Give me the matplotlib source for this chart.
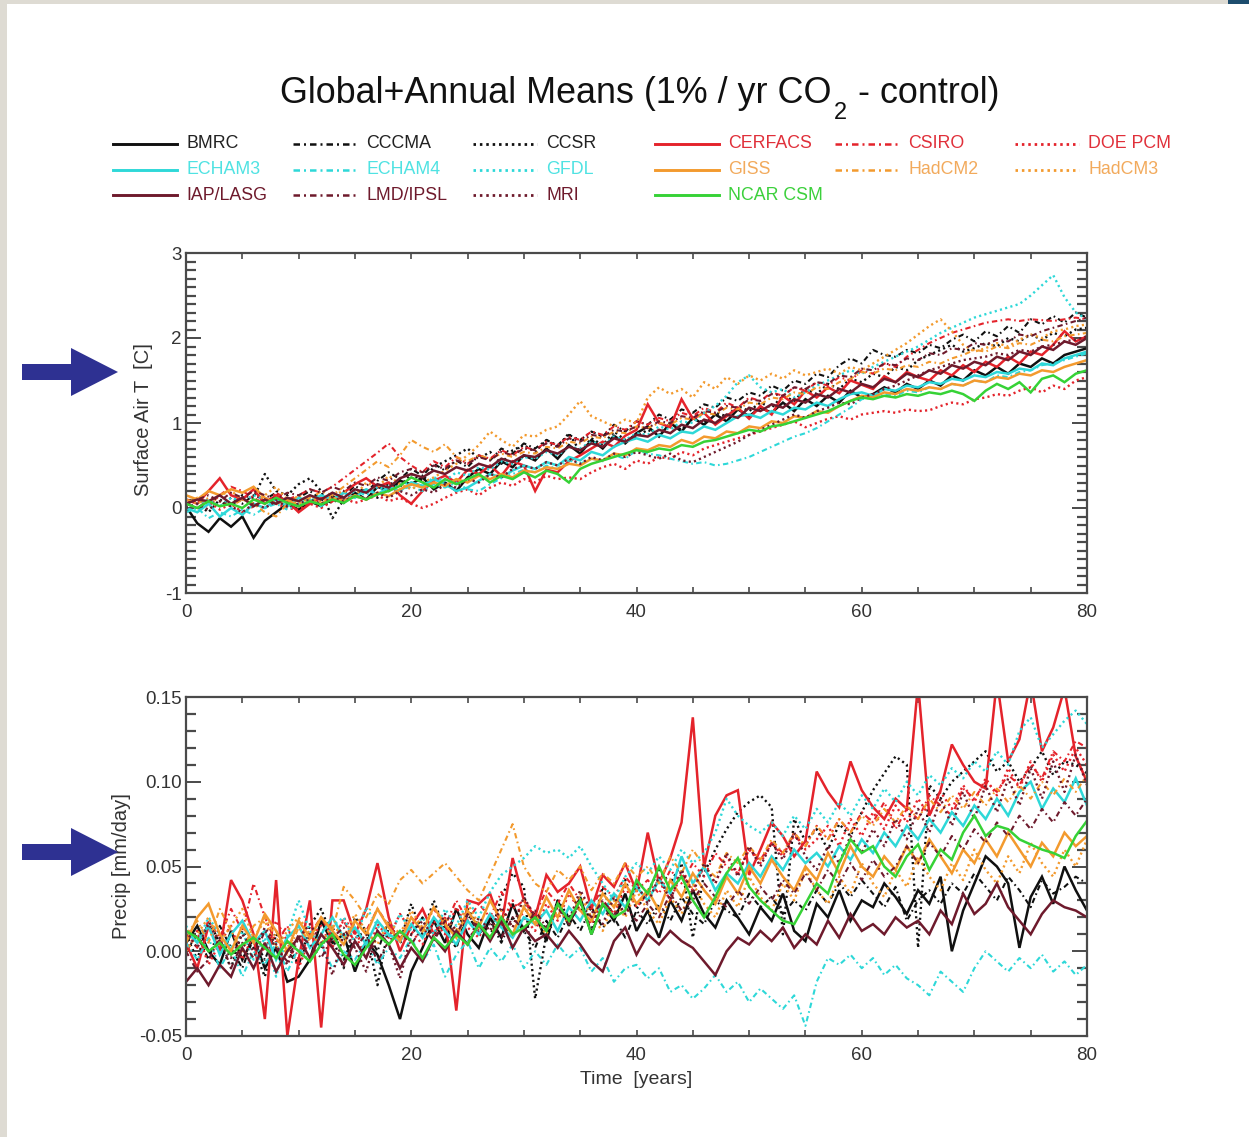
import numpy as np
import matplotlib
matplotlib.use("Agg")
import matplotlib.pyplot as plt
from matplotlib.lines import Line2D
from matplotlib.patches import Rectangle, Polygon
from matplotlib.ticker import MultipleLocator, FormatStrFormatter

plt.rcParams['font.family'] = ['Liberation Sans', 'DejaVu Sans']
plt.rcParams['axes.unicode_minus'] = False

YEARS = list(range(81))
MODELS = ["BMRC", "CCCMA", "CCSR", "CERFACS", "CSIRO", "DOE PCM",
          "ECHAM3", "ECHAM4", "GFDL", "GISS", "HadCM2", "HadCM3",
          "IAP/LASG", "LMD/IPSL", "MRI", "NCAR CSM"]

# ---------------- Surface air temperature change [C] ----------------
T_BMRC = [0.02,-0.18,-0.28,-0.12,-0.22,-0.10,-0.35,-0.15,-0.05,0.05,-0.02,
0.08,0.02,0.14,0.06,0.18,0.10,0.25,0.20,0.32,0.28,
0.36,0.22,0.30,0.20,0.36,0.46,0.40,0.55,0.48,0.62,
0.56,0.70,0.58,0.74,0.64,0.80,0.70,0.85,0.76,0.88,
0.96,0.84,1.00,0.90,1.06,0.98,1.10,1.02,1.16,1.08,
1.18,1.12,1.24,1.14,1.28,1.20,1.32,1.24,1.38,1.30,
1.34,1.42,1.36,1.46,1.40,1.50,1.44,1.56,1.50,1.62,
1.56,1.66,1.58,1.70,1.66,1.76,1.70,1.80,1.84,1.88]
T_CCCMA = [0.05,0.00,0.08,0.02,0.12,0.05,0.15,0.10,0.18,0.05,0.12,
0.20,0.10,0.06,0.14,0.26,0.18,0.32,0.42,0.34,0.46,
0.38,0.52,0.44,0.56,0.48,0.62,0.56,0.70,0.64,0.76,
0.70,0.80,0.74,0.86,0.80,0.90,0.84,0.98,0.90,1.02,
0.98,1.10,1.04,1.16,1.12,1.22,1.18,1.30,1.26,1.36,
1.32,1.44,1.38,1.50,1.46,1.58,1.54,1.68,1.76,1.70,
1.86,1.80,1.78,1.86,1.82,1.92,1.88,1.98,2.04,1.96,
2.08,2.02,2.14,2.06,2.22,2.16,2.26,2.18,2.30,2.24]
T_CCSR = [0.00,0.05,-0.05,0.10,0.02,0.15,0.12,0.40,0.20,0.15,0.28,
0.35,0.20,-0.12,0.10,0.15,0.22,0.12,0.30,0.25,0.40,
0.32,0.48,0.55,0.62,0.70,0.58,0.66,0.52,0.68,0.74,
0.66,0.80,0.72,0.88,0.66,0.82,0.74,0.90,0.80,0.84,
0.92,0.86,1.00,0.92,1.06,1.00,1.12,1.08,1.20,1.14,
1.24,1.18,1.32,1.26,1.40,1.34,1.46,1.40,1.52,1.48,
1.58,1.54,1.66,1.62,1.74,1.80,1.86,1.92,1.84,1.88,
1.94,1.90,2.00,1.96,2.04,1.98,2.06,2.02,2.10,2.12]
T_CERFACS = [0.10,0.05,0.20,0.35,0.15,0.10,0.22,0.05,0.15,0.08,-0.05,
0.05,0.12,0.08,0.18,0.28,0.35,0.25,0.30,0.15,0.05,
0.20,0.32,0.38,0.30,0.45,0.40,0.50,0.38,0.55,0.50,
0.20,0.45,0.42,0.55,0.62,0.70,0.78,0.72,0.85,0.92,
1.22,1.00,0.95,1.28,1.05,1.12,0.98,1.08,1.18,1.05,
1.20,1.10,1.32,1.22,1.38,1.30,1.42,1.35,1.50,1.45,
1.40,1.55,1.48,1.60,1.54,1.50,1.62,1.56,1.68,1.60,
1.72,1.66,1.78,1.70,1.84,1.80,1.92,2.08,1.96,2.02]
T_CSIRO = [0.05,0.10,0.02,0.15,0.25,0.20,0.12,0.05,0.18,0.10,0.15,
0.22,0.18,0.25,0.35,0.45,0.55,0.65,0.76,0.60,0.50,
0.42,0.55,0.48,0.60,0.52,0.62,0.58,0.68,0.62,0.72,
0.68,0.78,0.74,0.84,0.80,0.90,0.86,0.96,0.92,1.02,
0.98,1.06,1.02,1.12,1.08,1.18,1.12,1.24,1.18,1.30,
1.26,1.36,1.32,1.42,1.38,1.48,1.44,1.54,1.50,1.62,
1.58,1.70,1.66,1.78,1.86,1.94,2.00,2.06,2.10,2.14,
2.18,2.20,2.22,2.20,2.22,2.21,2.20,2.22,2.24,2.22]
T_DOE = [0.05,0.00,0.08,-0.02,0.05,-0.05,0.02,0.10,0.05,0.00,-0.02,
0.05,0.00,0.08,0.12,0.06,0.10,0.15,0.08,0.12,0.05,
0.00,0.05,0.12,0.18,0.22,0.15,0.24,0.30,0.26,0.34,
0.30,0.38,0.34,0.36,0.34,0.42,0.48,0.52,0.46,0.56,
0.52,0.60,0.58,0.66,0.62,0.70,0.74,0.78,0.82,0.86,
0.90,0.94,0.98,1.02,0.95,1.00,1.05,1.08,1.04,1.10,
1.12,1.14,1.12,1.16,1.14,1.15,1.20,1.24,1.22,1.28,
1.30,1.34,1.32,1.38,1.42,1.36,1.44,1.40,1.50,1.54]
T_ECHAM3 = [0.00,-0.05,0.05,-0.10,0.00,-0.08,0.05,0.00,0.10,0.02,0.12,
0.08,0.15,0.10,0.18,0.12,0.22,0.16,0.25,0.20,0.30,
0.26,0.34,0.28,0.20,0.24,0.32,0.40,0.36,0.44,0.50,
0.46,0.54,0.50,0.60,0.56,0.66,0.62,0.72,0.78,0.82,
0.78,0.86,0.82,0.90,0.88,0.96,0.92,1.00,1.08,1.10,
1.06,1.14,1.10,1.18,1.16,1.24,1.20,1.28,1.34,1.36,
1.32,1.40,1.38,1.44,1.42,1.48,1.46,1.52,1.50,1.56,
1.54,1.60,1.58,1.64,1.62,1.70,1.68,1.76,1.80,1.84]
T_ECHAM4 = [-0.05,0.00,-0.12,-0.05,-0.10,-0.02,-0.08,0.00,0.05,-0.02,0.05,
0.10,0.02,0.12,0.08,0.15,0.10,0.18,0.14,0.22,0.25,
0.20,0.28,0.24,0.30,0.22,0.20,0.28,0.35,0.40,0.45,
0.42,0.50,0.46,0.56,0.52,0.58,0.55,0.62,0.58,0.68,
0.64,0.62,0.58,0.55,0.52,0.54,0.50,0.52,0.56,0.60,
0.66,0.72,0.78,0.84,0.88,0.94,1.02,1.10,1.18,1.28,
1.30,1.34,1.32,1.38,1.36,1.42,1.40,1.46,1.44,1.50,
1.48,1.56,1.54,1.60,1.62,1.68,1.70,1.74,1.78,1.82]
T_GFDL = [0.00,0.05,0.10,0.02,0.12,0.08,0.15,0.10,0.05,0.12,0.08,
0.15,0.10,0.18,0.12,0.20,0.15,0.25,0.20,0.28,0.30,
0.26,0.36,0.32,0.42,0.38,0.48,0.45,0.55,0.52,0.60,
0.58,0.66,0.62,0.72,0.70,0.78,0.74,0.84,0.80,0.88,
0.86,0.96,0.92,1.02,1.00,1.12,1.20,1.32,1.48,1.56,
1.42,1.36,1.40,1.30,1.36,1.44,1.50,1.56,1.62,1.58,
1.66,1.72,1.78,1.84,1.90,1.98,2.06,2.12,2.18,2.24,
2.28,2.32,2.36,2.40,2.50,2.62,2.74,2.48,2.30,2.22]
T_GISS = [0.15,0.10,0.20,0.15,0.22,0.18,0.25,0.12,0.05,0.10,0.02,
0.08,0.05,0.12,0.08,0.15,0.10,0.18,0.14,0.22,0.28,
0.24,0.30,0.26,0.34,0.30,0.38,0.34,0.40,0.36,0.44,
0.42,0.48,0.46,0.52,0.50,0.58,0.56,0.64,0.62,0.70,
0.68,0.74,0.72,0.80,0.76,0.84,0.82,0.90,0.88,0.96,
0.94,1.02,1.00,1.08,1.06,1.14,1.12,1.20,1.26,1.32,
1.30,1.36,1.34,1.40,1.38,1.42,1.40,1.46,1.44,1.50,
1.48,1.54,1.52,1.58,1.56,1.62,1.60,1.66,1.70,1.74]
T_HADCM2 = [0.10,0.05,0.12,0.08,0.02,0.10,0.05,-0.05,-0.10,0.05,0.15,
0.10,0.20,0.15,0.25,0.35,0.45,0.55,0.48,0.62,0.80,
0.72,0.66,0.75,0.60,0.55,0.62,0.58,0.64,0.60,0.66,
0.64,0.72,0.70,0.78,0.76,0.84,0.82,0.90,0.88,0.96,
0.94,1.00,0.98,1.06,1.04,1.12,1.10,1.18,1.16,1.24,
1.22,1.30,1.28,1.36,1.34,1.42,1.40,1.48,1.52,1.60,
1.58,1.64,1.62,1.68,1.66,1.72,1.70,1.76,1.80,1.86,
1.84,1.90,1.88,1.94,1.92,1.98,1.96,2.02,2.04,2.06]
T_HADCM3 = [0.05,0.12,0.05,0.15,0.20,0.10,0.05,0.15,0.25,0.10,0.05,
0.12,0.08,0.15,0.20,0.14,0.30,0.24,0.38,0.28,0.22,
0.30,0.36,0.44,0.52,0.62,0.74,0.90,0.80,0.72,0.86,
0.84,0.92,0.96,1.10,1.26,1.08,1.02,0.96,1.04,1.00,
1.30,1.42,1.34,1.40,1.30,1.48,1.40,1.54,1.46,1.56,
1.50,1.58,1.52,1.62,1.56,1.60,1.64,1.58,1.66,1.62,
1.70,1.78,1.86,1.94,2.04,2.14,2.22,2.08,1.92,1.84,
1.88,1.94,1.90,1.98,2.04,2.00,2.08,2.10,2.14,2.16]
T_IAP = [0.05,0.10,0.08,0.15,0.05,0.12,0.02,0.10,0.05,0.12,0.08,
0.15,0.10,0.18,0.12,0.22,0.18,0.28,0.24,0.35,0.40,
0.36,0.44,0.40,0.48,0.44,0.52,0.48,0.58,0.54,0.62,
0.60,0.68,0.64,0.72,0.68,0.76,0.72,0.82,0.78,0.86,
0.84,0.92,0.88,0.98,0.94,1.04,1.00,1.10,1.06,1.18,
1.14,1.22,1.18,1.28,1.24,1.34,1.30,1.40,1.36,1.46,
1.42,1.52,1.48,1.58,1.54,1.62,1.58,1.68,1.64,1.72,
1.68,1.78,1.74,1.84,1.80,1.90,1.86,1.96,1.92,2.00]
T_LMD = [0.05,0.10,0.15,0.08,0.18,0.12,0.20,0.15,0.10,0.18,0.15,
0.22,0.18,0.25,0.20,0.30,0.26,0.36,0.32,0.42,0.46,
0.42,0.50,0.46,0.56,0.52,0.60,0.56,0.66,0.62,0.70,
0.68,0.76,0.72,0.82,0.78,0.86,0.84,0.92,0.90,0.96,
0.94,1.02,1.00,1.08,1.06,1.14,1.12,1.20,1.18,1.28,
1.26,1.34,1.32,1.42,1.40,1.48,1.46,1.56,1.54,1.64,
1.62,1.70,1.68,1.76,1.74,1.82,1.80,1.88,1.86,1.94,
1.92,1.98,1.96,2.04,2.02,2.08,2.12,2.16,2.20,2.24]
T_MRI = [0.00,0.05,-0.02,0.08,0.02,-0.05,0.05,0.00,0.08,0.02,0.05,
0.10,0.05,0.12,0.08,0.14,0.10,0.18,0.12,0.20,0.15,
0.22,0.18,0.28,0.24,0.34,0.30,0.40,0.36,0.46,0.50,
0.46,0.54,0.50,0.58,0.52,0.60,0.56,0.64,0.60,0.66,
0.62,0.58,0.64,0.56,0.54,0.60,0.66,0.72,0.78,0.86,
0.92,0.98,1.04,1.10,1.06,1.14,1.18,1.24,1.22,1.30,
1.34,1.40,1.44,1.50,1.56,1.62,1.66,1.70,1.74,1.76,
1.78,1.82,1.80,1.86,1.84,1.90,1.92,1.96,1.98,2.02]
T_NCAR = [0.05,0.00,0.08,0.02,0.05,0.00,0.10,0.05,0.12,0.06,0.02,
0.08,0.04,0.10,0.06,0.14,0.10,0.16,0.20,0.26,0.36,
0.30,0.24,0.34,0.28,0.34,0.40,0.30,0.38,0.34,0.42,
0.36,0.44,0.40,0.30,0.46,0.52,0.56,0.60,0.64,0.68,
0.66,0.70,0.68,0.74,0.72,0.78,0.80,0.84,0.88,0.92,
0.90,0.96,0.98,1.02,1.06,1.10,1.14,1.20,1.26,1.30,
1.28,1.32,1.30,1.34,1.32,1.36,1.34,1.38,1.34,1.26,
1.38,1.46,1.40,1.48,1.36,1.52,1.56,1.48,1.58,1.62]

# ---------------- Precipitation change [mm/day] ----------------
P_BMRC = [0.005,0.015,0.000,-0.008,0.012,-0.005,0.008,-0.010,0.002,-0.018,-0.015,
-0.005,0.018,0.005,0.010,-0.012,0.006,-0.002,-0.020,-0.040,-0.012,
0.002,0.018,0.005,0.025,0.010,0.002,0.020,0.008,0.028,0.012,
0.022,0.006,0.030,0.015,0.032,0.010,0.028,0.018,0.034,0.012,
0.024,0.008,0.030,0.018,0.036,0.022,0.014,0.030,0.020,0.010,
0.026,0.018,0.034,0.012,0.006,0.028,0.020,0.036,0.018,0.030,
0.026,0.040,0.032,0.022,0.036,0.028,0.044,0.000,0.024,0.040,
0.056,0.050,0.040,0.002,0.032,0.044,0.028,0.050,0.036,0.024]
P_CCCMA = [0.000,0.010,-0.005,0.015,0.002,-0.010,0.008,-0.005,0.012,0.000,-0.008,
0.010,0.002,0.015,-0.005,0.008,0.012,0.000,0.018,0.005,0.010,
0.020,0.008,0.015,0.002,0.022,0.010,0.018,0.005,0.020,0.012,
0.002,0.018,0.008,0.022,0.012,0.026,0.014,0.020,0.008,0.024,
0.016,0.028,0.018,0.032,0.022,0.016,0.030,0.024,0.020,0.034,
0.026,0.032,0.022,0.030,0.024,0.036,0.028,0.040,0.032,0.042,
0.034,0.026,0.038,0.018,0.030,0.036,0.028,0.040,0.034,0.046,
0.038,0.030,0.044,0.036,0.026,0.042,0.034,0.038,0.044,0.040]
P_CCSR = [0.010,-0.005,0.018,0.005,-0.010,0.012,0.002,-0.015,0.010,0.005,-0.008,
0.015,0.025,0.008,-0.010,0.020,0.012,-0.020,0.015,0.005,0.028,
0.010,0.030,0.012,0.002,0.025,0.015,0.008,0.032,0.046,0.038,
-0.028,0.010,0.030,0.020,0.026,0.012,0.038,0.018,0.042,0.025,
0.035,0.048,0.040,0.052,0.008,0.046,0.060,0.072,0.082,0.088,
0.092,0.085,0.010,0.078,0.065,0.072,0.060,0.075,0.068,0.082,
0.095,0.105,0.115,0.110,0.002,0.098,0.090,0.100,0.106,0.112,
0.118,0.106,0.112,0.100,0.108,0.118,0.104,0.112,0.110,0.105]
P_CERFACS = [0.005,-0.010,0.015,0.000,0.042,0.030,0.010,-0.040,0.042,-0.050,-0.005,
0.030,-0.045,0.030,0.030,0.010,0.025,0.052,0.020,0.000,0.015,
0.025,0.010,0.020,-0.035,0.030,0.028,0.034,0.015,0.055,0.030,
0.020,0.045,0.035,0.040,0.050,0.025,0.045,0.038,0.052,0.035,
0.070,0.040,0.055,0.076,0.138,0.050,0.080,0.092,0.095,0.045,
0.060,0.076,0.068,0.056,0.065,0.106,0.094,0.085,0.112,0.095,
0.085,0.078,0.090,0.084,0.158,0.080,0.095,0.122,0.110,0.100,
0.096,0.160,0.112,0.125,0.160,0.118,0.132,0.155,0.115,0.100]
P_CSIRO = [0.010,0.002,0.018,0.008,0.025,0.012,0.040,0.020,0.005,0.015,-0.005,
0.010,0.020,0.008,0.018,0.005,0.012,0.025,0.015,0.008,0.020,
0.012,0.025,0.015,0.030,0.018,0.028,0.020,0.035,0.025,0.030,
0.022,0.036,0.028,0.040,0.030,0.025,0.038,0.032,0.044,0.036,
0.042,0.034,0.048,0.040,0.052,0.044,0.058,0.050,0.046,0.060,
0.054,0.064,0.058,0.068,0.062,0.074,0.066,0.078,0.070,0.082,
0.076,0.088,0.072,0.084,0.078,0.092,0.086,0.080,0.096,0.090,
0.100,0.094,0.104,0.098,0.110,0.102,0.118,0.112,0.124,0.120]
P_DOE = [0.000,0.012,-0.008,0.005,0.015,-0.005,0.010,0.000,0.018,0.006,-0.010,
0.008,0.015,0.002,0.020,0.010,-0.004,0.016,0.008,0.022,0.012,
0.004,0.018,0.010,0.026,0.014,0.008,0.022,0.016,0.030,0.020,
0.012,0.028,0.018,0.034,0.024,0.016,0.030,0.022,0.038,0.026,
0.034,0.042,0.030,0.046,0.036,0.050,0.040,0.056,0.046,0.060,
0.052,0.064,0.056,0.070,0.060,0.066,0.074,0.062,0.078,0.068,
0.082,0.072,0.086,0.076,0.090,0.080,0.094,0.084,0.098,0.088,
0.102,0.092,0.108,0.096,0.112,0.100,0.116,0.106,0.120,0.110]
P_ECHAM3 = [0.012,0.005,0.015,-0.002,0.010,0.018,0.005,0.012,-0.005,0.008,0.015,
0.002,0.010,0.020,0.008,0.014,0.004,0.018,0.010,0.006,0.016,
0.008,0.020,0.012,0.004,0.018,0.010,0.022,0.014,0.008,0.020,
0.016,0.024,0.012,0.026,0.018,0.030,0.022,0.034,0.026,0.038,
0.030,0.042,0.034,0.056,0.040,0.050,0.036,0.046,0.040,0.052,
0.044,0.056,0.048,0.060,0.052,0.058,0.050,0.062,0.054,0.066,
0.058,0.070,0.062,0.074,0.066,0.078,0.070,0.082,0.074,0.086,
0.078,0.090,0.080,0.094,0.100,0.084,0.096,0.088,0.102,0.086]
P_ECHAM4 = [0.005,-0.005,0.008,-0.010,0.002,-0.015,0.000,-0.008,0.005,-0.012,0.002,
-0.006,0.004,-0.010,0.000,-0.005,0.006,-0.008,0.002,-0.004,0.008,
-0.006,0.004,-0.015,-0.002,0.006,-0.010,0.002,-0.006,0.004,-0.010,
0.000,-0.008,0.004,-0.004,0.002,-0.012,-0.004,-0.018,-0.010,-0.008,
-0.016,-0.010,-0.024,-0.020,-0.028,-0.022,-0.014,-0.024,-0.018,-0.030,
-0.022,-0.028,-0.034,-0.026,-0.044,-0.018,-0.004,-0.008,-0.002,-0.010,
-0.004,-0.014,-0.008,-0.016,-0.020,-0.026,-0.012,-0.018,-0.024,-0.010,
0.000,-0.006,-0.012,-0.004,-0.010,-0.002,-0.012,-0.006,-0.014,-0.008]
P_GFDL = [0.015,0.005,0.020,0.010,0.002,0.012,-0.005,0.008,-0.015,0.010,0.030,
0.012,0.002,0.015,0.020,0.005,0.026,0.015,0.008,0.022,0.012,
0.020,0.010,0.025,0.015,0.030,0.020,0.035,0.045,0.050,0.055,
0.062,0.058,0.060,0.055,0.062,0.050,0.040,0.030,0.044,0.052,
0.046,0.056,0.048,0.060,0.052,0.058,0.070,0.090,0.080,0.074,
0.070,0.076,0.068,0.080,0.072,0.084,0.076,0.088,0.080,0.092,
0.084,0.096,0.088,0.100,0.092,0.104,0.098,0.108,0.102,0.112,
0.106,0.118,0.110,0.130,0.138,0.120,0.128,0.136,0.142,0.134]
P_GISS = [0.005,0.020,0.028,0.010,0.000,0.015,0.005,0.022,0.012,0.000,0.018,
0.008,0.020,0.012,0.004,0.018,0.010,0.025,0.014,0.006,0.020,
0.012,0.026,0.016,0.008,0.024,0.014,0.030,0.018,0.010,0.026,
0.016,0.032,0.020,0.036,0.024,0.018,0.034,0.026,0.040,0.028,
0.036,0.024,0.042,0.032,0.046,0.036,0.028,0.044,0.034,0.050,
0.040,0.054,0.044,0.036,0.050,0.042,0.058,0.046,0.062,0.050,
0.044,0.056,0.048,0.062,0.052,0.066,0.056,0.046,0.060,0.052,
0.066,0.056,0.070,0.060,0.050,0.064,0.056,0.070,0.062,0.068]
P_HADCM2 = [0.010,0.018,0.005,0.025,0.012,0.000,0.015,0.020,0.008,-0.002,0.014,
0.006,0.020,0.012,0.038,0.030,0.020,0.034,0.028,0.042,0.048,
0.040,0.046,0.052,0.044,0.036,0.030,0.045,0.060,0.075,0.050,
0.040,0.035,0.048,0.042,0.050,0.036,0.046,0.040,0.052,0.044,
0.050,0.040,0.056,0.046,0.060,0.050,0.044,0.058,0.052,0.062,
0.054,0.066,0.058,0.070,0.062,0.074,0.066,0.078,0.070,0.080,
0.074,0.084,0.076,0.086,0.078,0.090,0.082,0.092,0.084,0.094,
0.086,0.096,0.088,0.098,0.090,0.100,0.092,0.102,0.094,0.104]
P_HADCM3 = [0.000,0.010,0.020,0.005,0.015,0.025,0.008,0.018,0.002,0.012,0.020,
0.010,0.004,0.016,0.008,0.022,0.012,0.004,0.018,0.010,0.024,
0.014,0.006,0.020,0.012,0.028,0.016,0.008,0.024,0.014,0.030,
0.018,0.010,0.026,0.016,0.034,0.020,0.012,0.030,0.020,0.036,
0.024,0.016,0.032,0.022,0.040,0.028,0.020,0.036,0.026,0.044,
0.032,0.024,0.040,0.030,0.048,0.036,0.028,0.044,0.034,0.052,
0.040,0.032,0.048,0.038,0.056,0.044,0.036,0.052,0.042,0.060,
0.048,0.040,0.056,0.046,0.064,0.052,0.044,0.060,0.050,0.066]
P_IAP = [-0.018,-0.010,-0.020,-0.008,-0.015,0.002,-0.010,0.005,-0.012,0.000,0.008,
-0.004,0.010,0.002,-0.008,0.006,-0.004,0.012,0.004,-0.010,0.002,
-0.006,0.008,0.000,0.012,0.004,0.016,0.006,0.018,0.002,0.014,
0.006,0.010,0.002,0.012,0.004,-0.006,-0.012,0.006,0.014,-0.002,
0.010,0.004,0.012,0.006,0.002,-0.006,-0.014,0.000,0.008,0.004,
0.012,0.006,0.014,0.002,0.010,0.004,0.018,0.008,0.022,0.012,
0.016,0.010,0.020,0.014,0.018,0.010,0.024,0.016,0.034,0.022,
0.028,0.040,0.026,0.018,0.010,0.022,0.030,0.026,0.024,0.020]
P_LMD = [0.000,-0.012,-0.005,0.008,-0.010,0.005,-0.004,0.012,0.002,-0.006,0.010,
0.004,-0.004,0.008,0.014,0.002,0.010,-0.006,0.006,0.012,0.004,
0.014,0.006,0.018,0.010,0.022,0.012,0.016,0.008,0.020,0.012,
0.024,0.014,0.026,0.016,0.028,0.020,0.030,0.022,0.026,0.018,
0.028,0.020,0.034,0.024,0.030,0.040,0.032,0.026,0.036,0.028,
0.038,0.030,0.042,0.034,0.046,0.036,0.048,0.040,0.052,0.042,
0.054,0.044,0.050,0.062,0.052,0.064,0.056,0.068,0.060,0.072,
0.064,0.076,0.068,0.080,0.072,0.084,0.076,0.088,0.080,0.090]
P_MRI = [0.012,0.002,0.016,0.006,-0.004,0.010,0.000,0.014,0.004,-0.008,0.008,
0.016,0.006,-0.014,0.010,0.002,-0.012,0.012,0.004,-0.016,0.010,
0.018,0.008,0.022,0.012,0.004,0.020,0.012,0.026,0.014,0.032,
0.020,0.012,0.028,0.018,0.036,0.024,0.016,0.032,0.022,0.040,
0.028,0.044,0.030,0.048,0.034,0.052,0.040,0.058,0.044,0.062,
0.050,0.064,0.054,0.070,0.056,0.048,0.062,0.052,0.068,0.058,
0.072,0.062,0.078,0.066,0.084,0.070,0.090,0.074,0.094,0.078,
0.098,0.082,0.102,0.086,0.108,0.090,0.112,0.094,0.116,0.098]
P_NCAR = [0.012,0.008,0.000,0.005,-0.002,0.004,0.008,0.002,-0.004,0.006,0.000,
-0.006,0.004,0.010,-0.002,-0.008,0.002,0.010,0.004,0.012,0.006,
-0.004,0.008,0.002,0.010,0.004,0.016,0.008,0.020,0.010,0.014,
0.020,0.012,0.028,0.018,0.030,0.010,0.028,0.020,0.024,0.042,
0.034,0.050,0.036,0.044,0.030,0.020,0.032,0.046,0.055,0.038,
0.030,0.024,0.018,0.016,0.028,0.040,0.034,0.052,0.066,0.058,
0.062,0.050,0.044,0.056,0.063,0.048,0.060,0.054,0.070,0.080,
0.068,0.074,0.072,0.066,0.063,0.060,0.058,0.055,0.068,0.077]

TEMP = [T_BMRC, T_CCCMA, T_CCSR, T_CERFACS, T_CSIRO, T_DOE,
        T_ECHAM3, T_ECHAM4, T_GFDL, T_GISS, T_HADCM2, T_HADCM3,
        T_IAP, T_LMD, T_MRI, T_NCAR]
PREC = [P_BMRC, P_CCCMA, P_CCSR, P_CERFACS, P_CSIRO, P_DOE,
        P_ECHAM3, P_ECHAM4, P_GFDL, P_GISS, P_HADCM2, P_HADCM3,
        P_IAP, P_LMD, P_MRI, P_NCAR]

# ---------------- styles ----------------
BLACK, CYAN, RED, ORANGE, MAROON, GREEN = ('#101010', '#2ed8d8', '#e4232b',
                                           '#f39a2e', '#6e1a2c', '#36d236')
TXT = {BLACK: '#222222', CYAN: '#4fe2e2', RED: '#e0303a', ORANGE: '#f2aa5c',
       MAROON: '#6e1a2c', GREEN: '#3cd03c'}
SOLID = '-'
DASHDOT = (0, (2.6, 1.6, 0.8, 1.6))
DOTTED = (0, (0.9, 1.4))
COLORS = [BLACK, BLACK, BLACK, RED, RED, RED, CYAN, CYAN, CYAN,
          ORANGE, ORANGE, ORANGE, MAROON, MAROON, MAROON, GREEN]
STYLES = [SOLID, DASHDOT, DOTTED] * 5 + [SOLID]
WIDTHS = {SOLID: 1.8, DASHDOT: 1.5, DOTTED: 1.7}

W, H = 1249, 1137
fig = plt.figure(figsize=(W / 100, H / 100), dpi=100, facecolor='#dedbd3')
fig.patches.append(Rectangle((7 / W, 0), 1 - 7 / W, 1 - 4 / H,
                             transform=fig.transFigure, facecolor='white',
                             edgecolor='none', zorder=-10))
fig.patches.append(Rectangle((1228 / W, 1 - 4 / H), 21 / W, 4 / H,
                             transform=fig.transFigure, facecolor='#1d4d6e',
                             edgecolor='none', zorder=-9))


def fx(px):
    return px / W


def fy(py):
    return 1 - py / H


ax1 = fig.add_axes([fx(186), fy(593), fx(1087) - fx(186), fy(253) - fy(593)])
ax2 = fig.add_axes([fx(186), fy(1036), fx(1087) - fx(186), fy(697) - fy(1036)])

for data, ax in ((TEMP, ax1), (PREC, ax2)):
    for vals, c, ls in zip(data, COLORS, STYLES):
        ax.plot(YEARS, vals, color=c, linestyle=ls, lw=WIDTHS[ls],
                solid_joinstyle='miter')

SPINE = '#4a4a4a'
for ax in (ax1, ax2):
    ax.set_xlim(0, 80)
    ax.xaxis.set_major_locator(MultipleLocator(20))
    ax.xaxis.set_minor_locator(MultipleLocator(5))
    for s in ax.spines.values():
        s.set_color(SPINE)
        s.set_linewidth(1.6)
    ax.tick_params(which='both', direction='in', top=True, right=True,
                   colors=SPINE, labelcolor='#333333', labelsize=13.5)
    ax.tick_params(axis='x', which='both', length=4, width=1.2, pad=8)
    ax.tick_params(axis='y', which='major', length=11, width=1.4, pad=3)
    ax.tick_params(axis='y', which='minor', length=7, width=1.6)

ax1.set_ylim(-1, 3)
ax1.yaxis.set_major_locator(MultipleLocator(1))
ax1.yaxis.set_minor_locator(MultipleLocator(0.1))
ax1.set_ylabel('Surface Air T  [C]', fontsize=14.5, color='#333333')
ax1.yaxis.set_label_coords((153 - 186) / 901, 0.51)

ax2.set_ylim(-0.05, 0.15)
ax2.yaxis.set_major_locator(MultipleLocator(0.05))
ax2.yaxis.set_minor_locator(MultipleLocator(0.01))
ax2.yaxis.set_major_formatter(FormatStrFormatter('%.2f'))
ax2.set_ylabel('Precip [mm/day]', fontsize=14.5, color='#333333')
ax2.yaxis.set_label_coords((131 - 186) / 901, 0.50)
ax2.set_xlabel('Time  [years]', fontsize=14, color='#333333')
ax2.xaxis.set_label_coords(0.5, (1036 - 1071) / 339)

# ---------------- title ----------------
TFAM = ['Liberation Sans', 'DejaVu Sans']
renderer = fig.canvas.get_renderer()
t1 = fig.text(fx(280), fy(103), 'Global+Annual Means (1% / yr CO', fontsize=25.8,
              family=TFAM, color='#111111', va='baseline', ha='left')
bb = t1.get_window_extent(renderer)
t2 = fig.text(bb.x1 / W + 2 / W, fy(119), '2', fontsize=17, family=TFAM,
              color='#111111', va='baseline', ha='left')
bb2 = t2.get_window_extent(renderer)
fig.text(bb2.x1 / W + 1 / W, fy(103), ' - control)', fontsize=25.8, family=TFAM,
         color='#111111', va='baseline', ha='left')

# ---------------- legend (manual grid, six columns) ----------------
col_x = [113, 293, 473, 655, 835, 1015]
row_y = [144, 170, 195]
order = [[0, 1, 2, 3, 4, 5], [6, 7, 8, 9, 10, 11], [12, 13, 14, 15]]
for r, idxs in enumerate(order):
    for c, i in enumerate(idxs):
        x0 = col_x[c]
        y0 = row_y[r]
        fig.add_artist(Line2D([fx(x0), fx(x0 + 64)], [fy(y0), fy(y0)],
                              color=COLORS[i], linestyle=STYLES[i],
                              lw=WIDTHS[STYLES[i]] + 0.3,
                              transform=fig.transFigure))
        fig.text(fx(x0 + 73), fy(y0), MODELS[i], fontsize=12.8,
                 color=TXT[COLORS[i]], va='center', ha='left')

# ---------------- arrows ----------------
for tip_y in (372, 852):
    pts = [(22, tip_y - 8), (71, tip_y - 8), (71, tip_y - 24), (118, tip_y),
           (71, tip_y + 24), (71, tip_y + 8), (22, tip_y + 8)]
    fig.add_artist(Polygon([(fx(a), fy(b)) for a, b in pts], closed=True,
                           transform=fig.transFigure, facecolor='#2e3192',
                           edgecolor='none'))

fig.savefig('out.png', dpi=100, facecolor=fig.get_facecolor())
